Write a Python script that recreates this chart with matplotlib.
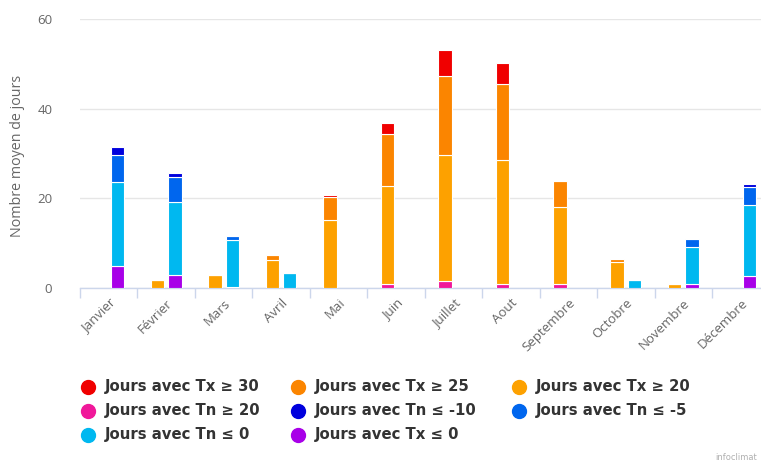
import matplotlib
matplotlib.use("Agg")
import matplotlib.pyplot as plt
import numpy as np

months = ["Janvier", "Février", "Mars", "Avril", "Mai", "Juin", "Juillet",
          "Aout", "Septembre", "Octobre", "Novembre", "Décembre"]

# Warm stack (bottom to top)
tn_ge_20 = [0, 0, 0, 0, 0, 1.0, 1.6, 1.0, 1.0, 0, 0, 0]
tx_ge_20 = [0, 1.7, 2.8, 6.2, 15.2, 21.8, 28.1, 27.5, 17.1, 5.9, 0.9, 0]
tx_ge_25 = [0, 0, 0, 1.2, 5.2, 11.5, 17.6, 16.9, 5.8, 0.5, 0, 0]
tx_ge_30 = [0, 0, 0, 0, 0.3, 2.4, 5.8, 4.7, 0, 0, 0, 0]

# Cold stack (bottom to top)
tx_le_0 = [5.0, 2.9, 0.2, 0, 0, 0, 0, 0, 0, 0, 0.9, 2.6]
tn_le_0 = [18.7, 16.2, 10.5, 3.3, 0, 0, 0, 0, 0, 1.8, 8.3, 15.9]
tn_le_m5 = [6.0, 5.6, 0.9, 0, 0, 0, 0, 0, 0, 0, 1.7, 4.1]
tn_le_m10 = [1.8, 0.9, 0, 0, 0, 0, 0, 0, 0, 0, 0, 0.6]

y_ticks = [0, 20, 40, 60]

series = {
    "Jours avec Tx ≥ 30": (tx_ge_30, "#f00000"),
    "Jours avec Tx ≥ 25": (tx_ge_25, "#fb8500"),
    "Jours avec Tx ≥ 20": (tx_ge_20, "#fda100"),
    "Jours avec Tn ≥ 20": (tn_ge_20, "#f0189a"),
    "Jours avec Tn ≤ -10": (tn_le_m10, "#0000dd"),
    "Jours avec Tn ≤ -5": (tn_le_m5, "#0066ee"),
    "Jours avec Tn ≤ 0": (tn_le_0, "#00b8f0"),
    "Jours avec Tx ≤ 0": (tx_le_0, "#a800e8"),
}
warm_order = ["Jours avec Tn ≥ 20", "Jours avec Tx ≥ 20",
              "Jours avec Tx ≥ 25", "Jours avec Tx ≥ 30"]
cold_order = ["Jours avec Tx ≤ 0", "Jours avec Tn ≤ 0",
              "Jours avec Tn ≤ -5", "Jours avec Tn ≤ -10"]

W, H = 761, 463
fig = plt.figure(figsize=(W / 100, H / 100), dpi=100)
ax = fig.add_axes([80 / W, (H - 288) / H, 689.5 / W, 269 / H])

x = np.arange(len(months))
bw = 0.235
off = 0.15

def draw_stack(order, dx):
    bottom = np.zeros(len(months))
    for name in order:
        vals, col = series[name]
        vals = np.asarray(vals, dtype=float)
        ax.bar(x + dx, vals, bw, bottom=bottom, color=col,
               edgecolor="white", linewidth=0.8, zorder=3)
        bottom += vals

draw_stack(warm_order, -off)
draw_stack(cold_order, off)

ax.set_xlim(-0.5, len(months) - 0.5)
ax.set_ylim(0, 60)
ax.set_yticks(y_ticks)
ax.set_yticklabels([str(v) for v in y_ticks])
ax.grid(axis="y", color="#e6e6e6", linewidth=1, zorder=0)
for s in ["top", "right", "left"]:
    ax.spines[s].set_visible(False)
ax.spines["bottom"].set_color("#ccd6eb")
ax.spines["bottom"].set_linewidth(1)

ax.set_xticks(x)
ax.set_xticklabels(months, rotation=45, ha="right", va="top",
                   rotation_mode="anchor", fontsize=9.5, color="#666666",
                   family="Open Sans")
ax.tick_params(axis="x", which="major", length=0, pad=6)
ax.set_xticks(np.arange(-0.5, len(months), 1), minor=True)
ax.tick_params(axis="x", which="minor", length=7, color="#ccd6eb", width=1)
ax.tick_params(axis="y", length=0, pad=20, labelsize=9.5, labelcolor="#666666")
for lab in ax.get_yticklabels():
    lab.set_family("Open Sans")

fig.text(18 / W, 1 - 156 / H, "Nombre moyen de jours", rotation=90,
         ha="center", va="center", fontsize=10.3, color="#666666",
         family="Open Sans")

# Legend, filled row by row in three columns
legend_names = list(series.keys())
col_x = [88, 298, 519]
row_y = [387, 411, 435]
for i, name in enumerate(legend_names):
    r, c = divmod(i, 3)
    cx, cy = col_x[c], row_y[r]
    fig.add_artist(plt.Line2D([cx / W], [1 - cy / H], marker="o",
                              markersize=10, color=series[name][1],
                              linestyle="none", transform=fig.transFigure))
    fig.text((cx + 17) / W, 1 - cy / H, name, ha="left", va="center",
             fontsize=10.7, fontweight="bold", color="#333333",
             family="DejaVu Sans")

fig.text(757 / W, 1 - 458 / H, "infoclimat", ha="right", va="center",
         fontsize=6, color="#b0b0b0")

fig.savefig("out.png", dpi=100)
